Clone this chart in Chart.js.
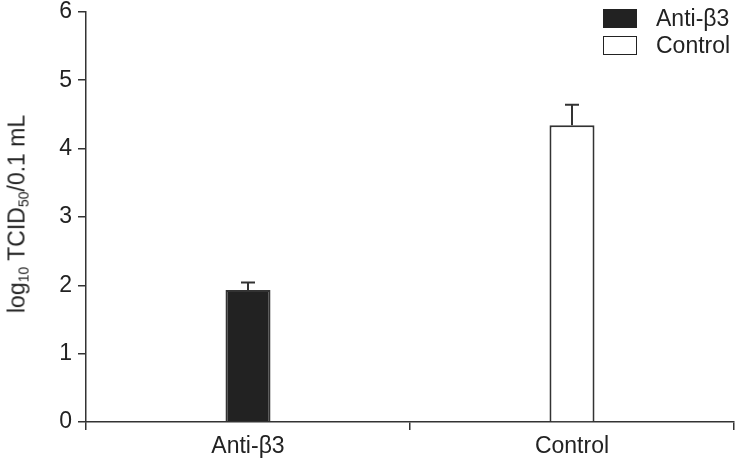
<!DOCTYPE html>
<html>
<head>
<meta charset="utf-8">
<script src="https://cdn.jsdelivr.net/npm/chart.js@4"></script>
<style>
  html, body { margin: 0; padding: 0; background: #fff; }
  #wrap { position: relative; width: 736px; height: 462px; overflow: hidden; font-family: "Liberation Sans", Arial, sans-serif; color: #222; }
  #chart { position: absolute; left: 0; top: -8px; }
  #ytitle {
    position: absolute; left: 17px; top: 214px;
    transform: translate(-50%, -50%) rotate(-90deg);
    white-space: nowrap; font-size: 23px;
  }
  #ytitle sub { font-size: 14px; vertical-align: -4px; line-height: 0; }
  .leg { position: absolute; left: 603px; font-size: 23px; display: flex; align-items: center; }
  .leg span.box { display: inline-block; width: 32px; height: 17px; border: 1.5px solid #222; margin-right: 19px; }
</style>
</head>
<body>
<div id="wrap">
  <canvas id="chart" width="736" height="470"></canvas>
  <div id="ytitle">log<sub>10</sub> TCID<sub>50</sub>/0.1 mL</div>
  <div class="leg" style="top:5px"><span class="box" style="background:#222"></span>Anti-β3</div>
  <div class="leg" style="top:32px"><span class="box" style="background:#fff"></span>Control</div>
</div>
<script>
// -------- Data ----------
const categories = ["Anti-β3", "Control"];
const titers = [1.93, 4.34];
const errors = [0.11, 0.30];
const yTicks = [0, 1, 2, 3, 4, 5, 6];

const fillColors = ["#222222", "#ffffff"];
const axisColor = "#333";

// -------- Error bars ----------
const errorBars = {
  id: "errorBars",
  afterDatasetsDraw(chart) {
    const { ctx, scales: { y } } = chart;
    const meta = chart.getDatasetMeta(0);
    ctx.save();
    ctx.strokeStyle = axisColor;
    ctx.lineWidth = 2;
    meta.data.forEach((bar, i) => {
      const top = y.getPixelForValue(titers[i] + errors[i]);
      const base = y.getPixelForValue(titers[i]);
      ctx.beginPath();
      ctx.moveTo(bar.x, base);
      ctx.lineTo(bar.x, top);
      ctx.moveTo(bar.x - 7, top);
      ctx.lineTo(bar.x + 7, top);
      ctx.stroke();
    });
    ctx.restore();
  }
};

new Chart(document.getElementById("chart"), {
  type: "bar",
  data: {
    labels: categories,
    datasets: [{
      data: titers,
      backgroundColor: fillColors,
      borderColor: axisColor,
      borderWidth: 2,
      barPercentage: 0.139,
      categoryPercentage: 1
    }]
  },
  options: {
    responsive: false,
    animation: false,
    layout: { padding: { top: 2, right: 2, left: 0, bottom: 0 } },
    plugins: { legend: { display: false }, tooltip: { enabled: false } },
    scales: {
      x: {
        afterFit: (s) => { s.height = 40; },
        grid: { offset: true, drawOnChartArea: false, drawTicks: true, tickLength: 8, color: axisColor, lineWidth: 1.5 },
        border: { display: true, color: axisColor, width: 1.5 },
        ticks: { color: "#222", font: { family: "Liberation Sans", size: 23 }, padding: 3 }
      },
      y: {
        min: 0, max: 6,
        afterFit: (s) => { s.width = 86; },
        afterBuildTicks: (s) => { s.ticks = yTicks.map(v => ({ value: v })); },
        grid: { drawOnChartArea: false, drawTicks: true, tickLength: 8, color: axisColor, lineWidth: 1.5 },
        border: { display: true, color: axisColor, width: 1.5 },
        ticks: { color: "#222", font: { family: "Liberation Sans", size: 23 }, padding: 6 }
      }
    }
  },
  plugins: [errorBars]
});
</script>
</body>
</html>
